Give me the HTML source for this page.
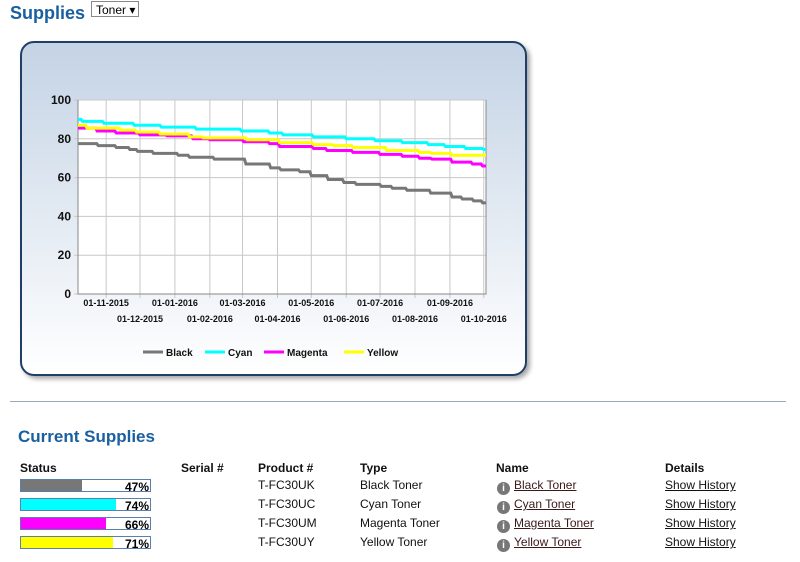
<!DOCTYPE html>
<html><head><meta charset="utf-8"><style>
body{margin:0;width:800px;height:562px;background:#fff;font-family:"Liberation Sans",Arial,sans-serif;position:relative;overflow:hidden}
.abs{position:absolute}
h1{position:absolute;left:10px;top:3px;margin:0;font-size:18px;color:#1a5fa0;font-weight:bold}
h2{position:absolute;left:18px;top:427px;margin:0;font-size:17px;color:#1a5fa0;font-weight:bold}
.sel{left:91px;top:1px;width:46px;height:16px;border:1px solid #888;font-size:12px;line-height:16px;padding-left:4px;box-sizing:border-box;width:48px}
.panel{left:20px;top:41px;width:507px;height:335px;box-sizing:border-box;border:2px solid #1f3f66;border-radius:14px;background:linear-gradient(#c4d3e5,#ffffff);box-shadow:3px 3px 5px rgba(0,0,0,.35)}
.hr{left:10px;top:401px;width:776px;height:1px;background:#9ab}
.th{font-size:12px;font-weight:bold;color:#111;top:461px}
.td{font-size:12px;color:#111}
.bar{left:20px;width:131px;height:13px;border:1px solid #5a7fae;box-sizing:border-box;background:#fff}
.bar i{position:absolute;left:0;top:0;bottom:0}
.bar b{position:absolute;right:1px;top:0;font-size:12px;line-height:14px}
a{color:#3a1a1a;text-decoration:underline}
.info{display:inline-block;width:13px;height:13px;border-radius:50%;background:#777;color:#fff;font-size:10px;font-weight:bold;text-align:center;line-height:13px;vertical-align:-2px;margin-right:4px}
</style></head><body>
<h1>Supplies</h1>
<div class="abs sel">Toner ▾</div>
<div class="abs panel"></div>
<svg class="abs" style="left:0;top:0" width="800" height="400" id="chart"></svg>
<div class="abs hr"></div>
<h2>Current Supplies</h2>
<div class="abs th" style="left:20px">Status</div>
<div class="abs th" style="left:181px">Serial #</div>
<div class="abs th" style="left:258px">Product #</div>
<div class="abs th" style="left:360px">Type</div>
<div class="abs th" style="left:496px">Name</div>
<div class="abs th" style="left:665px">Details</div>
<div id="rows"></div>
<script>
const NS="http://www.w3.org/2000/svg";
const startDate="2015-10-07", endDate="2016-10-03";
const yTicks=[0,20,40,60,80,100];
const monthTicks=["2015-11-01","2015-12-01","2016-01-01","2016-02-01","2016-03-01","2016-04-01","2016-05-01","2016-06-01","2016-07-01","2016-08-01","2016-09-01","2016-10-01"];
const seriesNames=["Black","Cyan","Magenta","Yellow"];
const seriesColors=["#777777","#00ffff","#ff00ff","#ffff00"];
const blackDays=[0,18,34,46,53,67,89,99,121,149,171,180,197,207,222,236,247,269,279,292,313,332,341,351,359];
const blackVals=[77.5,76.5,75.5,74.5,73.5,72.5,71.5,70.5,69.5,67,65,64,63,61,59,57.5,56.5,55.5,54.5,53.5,52,50,49,48,47];
const cyanDays=[0,4,23,50,74,105,145,170,182,209,238,264,288,311,326,344,360];
const cyanVals=[90,89,88,87,86,85,84,83,82,81,80,79,78,77,76,75,74.5];
const magentaDays=[0,17,34,55,79,102,117,147,170,179,209,221,244,268,288,303,314,332,350,359];
const magentaVals=[85.5,84,83,82,81.5,80,79.5,78.5,77.5,76,75,74,73,72,71,70,69.5,68,67,66];
const yellowDays=[0,8,38,52,73,99,111,150,179,209,227,244,274,303,314,332];
const yellowVals=[87,85.5,84.5,83.5,82.5,81,80.5,79.5,78,77,76.5,75.5,74,73,72.5,71.5];
const allDays=[blackDays,cyanDays,magentaDays,yellowDays];
const allVals=[blackVals,cyanVals,magentaVals,yellowVals];
const X0=78,X1=486,Y0=294,Y1=100;
const t0=Date.parse(startDate),t1=Date.parse(endDate),span=(t1-t0)/864e5;
const xDay=d=>X0+d/span*(X1-X0);
const xDate=s=>xDay((Date.parse(s)-t0)/864e5);
const y=v=>Y0-v/100*(Y0-Y1);
const svg=document.getElementById('chart');
function mk(tag,attrs,parent){const e=document.createElementNS(NS,tag);for(const k in attrs)e.setAttribute(k,attrs[k]);(parent||svg).appendChild(e);return e;}
const plotBg=mk('rect',{x:X0,y:Y1,width:X1-X0,height:Y0-Y1,fill:'#fff'});


yTicks.forEach(v=>{
 const g=mk('line',{x1:X0-4,x2:X1,y1:y(v),y2:y(v),stroke:'#c8c8c8'});
 
 
 const t=mk('text',{x:X0-7,y:y(v)+4,'text-anchor':'end','font-size':12,'font-weight':'bold',fill:'#111','font-family':'Liberation Sans, sans-serif'});
 t.textContent=v;
 
 
});
monthTicks.forEach((m,i)=>{
 const xx=xDate(m);
 const g=mk('line',{x1:xx,x2:xx,y1:Y1,y2:Y0+4,stroke:'#c8c8c8'});
 
 
 const p=m.split('-');
 const t=mk('text',{x:xx,y:i%2?322:306,'text-anchor':'middle','font-size':9,'font-weight':'bold',fill:'#111','font-family':'Liberation Sans, sans-serif'});
 t.textContent=p[2]+'-'+p[1]+'-'+p[0];
 
 
});
const ax=mk('path',{d:`M${X0} ${Y1}V${Y0}H${X1}V${Y1}`,fill:'none',stroke:'#888'});


[0,2,3,1].forEach(s=>{
 const ds=allDays[s],vs=allVals[s];let d=`M${xDay(ds[0])} ${y(vs[0])}`;
 for(let i=1;i<ds.length;i++){d+=`H${xDay(ds[i])-1.5}L${xDay(ds[i])} ${y(vs[i])}`;}
 d+=`H${X1}`;
 const p=mk('path',{d,fill:'none',stroke:seriesColors[s],'stroke-width':3});
 
 
});
const legX=[143,205,264,344];
seriesNames.forEach((n,i)=>{
 const l=mk('line',{x1:legX[i],x2:legX[i]+20,y1:352,y2:352,stroke:seriesColors[i],'stroke-width':3});
 
 
 const t=mk('text',{x:legX[i]+23,y:356,'font-size':10,'font-weight':'bold',fill:'#111','font-family':'Liberation Sans, sans-serif'});
 t.textContent=n;
 
 
});
const pct=[47,74,66,71];
const prods=["T-FC30UK","T-FC30UC","T-FC30UM","T-FC30UY"];
const rows=document.getElementById('rows');
seriesNames.forEach((n,i)=>{
 const top=478+i*19;
 rows.insertAdjacentHTML('beforeend',
 `<div class="abs bar" style="top:${top+1}px"><i style="width:${pct[i]/100*129}px;background:${seriesColors[i]}"></i><b>${pct[i]}%</b></div>
 <div class="abs td" style="left:258px;top:${top}px">${prods[i]}</div>
 <div class="abs td" style="left:360px;top:${top}px">${n} Toner</div>
 <div class="abs td" style="left:497px;top:${top}px"><span class="info">i</span><a>${n} Toner</a></div>
 <div class="abs td" style="left:665px;top:${top}px"><a style="color:#111">Show History</a></div>`);
});
</script>
</body></html>
